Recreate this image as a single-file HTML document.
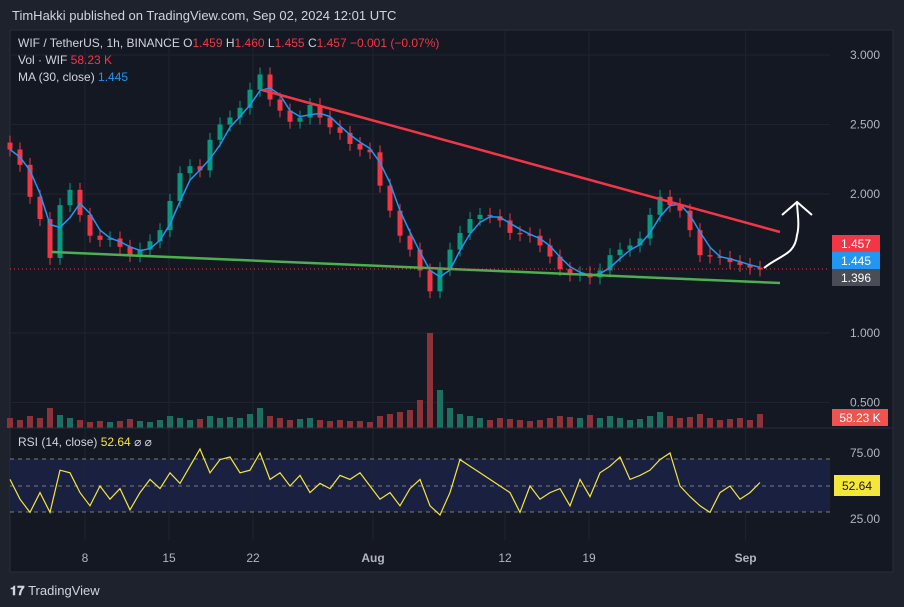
<!DOCTYPE html>
<html><head><meta charset="utf-8"><style>
body{margin:0;width:904px;height:607px;background:#1e222d;font-family:"Liberation Sans",sans-serif;overflow:hidden}
svg{position:absolute;left:0;top:0}
text{font-family:"Liberation Sans",sans-serif}
</style></head><body>
<svg width="904" height="607">
<rect x="10" y="30" width="883" height="542" fill="#141823" stroke="#2a2e39"/>
<rect x="10" y="459" width="820" height="53" fill="#1a2140"/>
<g id="grid"></g>
<g id="vol"></g>
<g id="candles"></g>
<g id="ma"></g>
<line x1="262" y1="90" x2="780" y2="232" stroke="#f23645" stroke-width="2.5"/>
<line x1="52" y1="252" x2="780" y2="283" stroke="#4caf50" stroke-width="2.5"/>
<path d="M764,268 C780,255 795,255 797,235 C800,225 797,210 797,202 M782,215 L797,202 L812,215" fill="none" stroke="#fff" stroke-width="2"/>
<line x1="10" x2="830" y1="269" y2="269" stroke="#f23645" stroke-dasharray="1,3"/>
<line x1="10" x2="893" y1="428" y2="428" stroke="#2a2e39"/>
<line x1="10" x2="830" y1="459" y2="459" stroke="#787b86" stroke-dasharray="4,4"/>
<line x1="10" x2="830" y1="486" y2="486" stroke="#787b86" stroke-dasharray="4,4"/>
<line x1="10" x2="830" y1="512" y2="512" stroke="#787b86" stroke-dasharray="4,4"/>
<g id="rsi"></g>
<g id="axes"></g>
<text x="12" y="20" font-size="13" fill="#d1d4dc">TimHakki published on TradingView.com, Sep 02, 2024 12:01 UTC</text>
<text x="18" y="47" font-size="12" fill="#d1d4dc">WIF / TetherUS, 1h, BINANCE  O<tspan fill="#f23645">1.459</tspan>  H<tspan fill="#f23645">1.460</tspan>  L<tspan fill="#f23645">1.455</tspan>  C<tspan fill="#f23645">1.457</tspan>  <tspan fill="#f23645">−0.001 (−0.07%)</tspan></text>
<text x="18" y="64" font-size="12" fill="#d1d4dc">Vol · WIF  <tspan fill="#f23645">58.23 K</tspan></text>
<text x="18" y="81" font-size="12" fill="#d1d4dc">MA (30, close)  <tspan fill="#2196f3">1.445</tspan></text>
<text x="18" y="446" font-size="12" fill="#d1d4dc">RSI (14, close)  <tspan fill="#f5e63b">52.64</tspan>  ⌀ ⌀</text>
<rect x="832" y="235" width="48" height="17" fill="#f23645"/>
<text x="856" y="248" font-size="12" fill="#fff" text-anchor="middle">1.457</text>
<rect x="832" y="252" width="48" height="17" fill="#2196f3"/>
<text x="856" y="265" font-size="12" fill="#fff" text-anchor="middle">1.445</text>
<rect x="832" y="269" width="48" height="17" fill="#4a4d55"/>
<text x="856" y="282" font-size="12" fill="#fff" text-anchor="middle">1.396</text>
<rect x="832" y="409" width="56" height="17" fill="#ef5350"/>
<text x="860" y="422" font-size="12" fill="#fff" text-anchor="middle">58.23 K</text>
<rect x="834" y="475" width="46" height="21" fill="#f5e63b"/>
<text x="857" y="490" font-size="12" fill="#131722" text-anchor="middle">52.64</text>
<text x="10" y="595" font-size="13" font-weight="bold" fill="#d1d4dc">𝟏𝟕 <tspan font-weight="normal" font-size="13">TradingView</tspan></text>
</svg>
<script>
const closes=[2.32,2.21,1.98,1.82,1.54,1.92,2.03,1.85,1.70,1.67,1.68,1.62,1.56,1.60,1.66,1.74,1.95,2.15,2.20,2.17,2.39,2.50,2.55,2.62,2.75,2.86,2.68,2.60,2.52,2.55,2.64,2.55,2.48,2.44,2.36,2.32,2.30,2.06,1.88,1.70,1.60,1.45,1.30,1.46,1.60,1.72,1.82,1.85,1.84,1.81,1.72,1.71,1.70,1.63,1.55,1.46,1.42,1.43,1.40,1.45,1.56,1.60,1.63,1.68,1.85,1.98,1.92,1.88,1.74,1.56,1.55,1.54,1.51,1.49,1.47,1.457];
const volumes=[10,8,12,10,20,13,10,8,6,7,6,7,9,7,6,8,12,10,8,9,12,10,11,10,14,20,12,10,8,9,10,8,7,8,7,7,6,12,14,16,18,28,95,38,20,14,12,10,8,10,9,8,7,8,10,12,11,10,13,10,12,10,8,9,12,16,12,10,11,14,10,8,9,10,8,14];
const rsi=[55,40,30,45,30,62,60,45,35,50,40,48,32,45,55,48,60,52,65,78,60,70,72,60,62,75,55,60,50,58,45,52,48,58,55,60,50,40,45,35,48,55,35,28,45,70,65,60,55,50,45,30,50,40,45,48,35,55,42,60,65,72,55,58,62,70,75,50,42,35,30,45,50,40,45,52.64];
const priceTicks=[3.0,2.5,2.0,1.0,0.5];
const priceTickLabels=["3.000","2.500","2.000","1.000","0.500"];
const rsiTicks=[75,25];
const rsiTickLabels=["75.00","25.00"];
const timeTicks=[6.25,13.25,20.25,30.25,41.25,48.25,61.3];
const timeLabels=["8","15","22","Aug","12","19","Sep"];
const NS="http://www.w3.org/2000/svg";
const py=p=>333-(p-1)*139, xi=i=>10+i*10, ry=r=>486-(r-50)*1.32, xd=d=>10+d*12, vy=v=>428-v;
function el(t,a,parent){const e=document.createElementNS(NS,t);for(const k in a)e.setAttribute(k,a[k]);document.getElementById(parent).appendChild(e);return e;}
priceTicks.forEach((p,i)=>{
 const g=el('line',{x1:10,x2:830,y1:py(p),y2:py(p),stroke:'#1f2330'},'grid');
 
 
 const t=el('text',{x:880,y:py(p)+4,'font-size':12,fill:'#b2b5be','text-anchor':'end'},'axes');t.textContent=priceTickLabels[i];
 
 
});
rsiTicks.forEach((r,i)=>{
 const t=el('text',{x:880,y:ry(r)+4,'font-size':12,fill:'#b2b5be','text-anchor':'end'},'axes');t.textContent=rsiTickLabels[i];
 
 
});
timeTicks.forEach((d,i)=>{
 const g=el('line',{x1:xd(d),x2:xd(d),y1:30,y2:540,stroke:'#1f2330'},'grid');
 
 
 const t=el('text',{x:xd(d),y:562,'font-size':12,fill:'#b2b5be','text-anchor':'middle','font-weight':timeLabels[i].length>2?'bold':'normal'},'axes');t.textContent=timeLabels[i];
 
 
});
volumes.forEach((v,i)=>{
 const up=i>0&&closes[i]>=closes[i-1];
 const r=el('rect',{x:xi(i)-3,y:vy(v),width:6,height:v,fill:up?'#1e6e62':'#8c3238'},'vol');
 
 
});
closes.forEach((c,i)=>{
 const o=i>0?closes[i-1]:c+0.05, up=c>=o, col=up?'#089981':'#f23645';
 const hi=Math.max(o,c)+0.05, lo=Math.min(o,c)-0.05;
 const w=el('line',{x1:xi(i),x2:xi(i),y1:py(hi),y2:py(lo),stroke:col},'candles');
 
 
 const b=el('rect',{x:xi(i)-2.5,y:py(Math.max(o,c)),width:5,height:Math.max(1,Math.abs(py(o)-py(c))),fill:col},'candles');
 
 
});
let pts=closes.map((c,i)=>{const s=closes.slice(Math.max(0,i-2),i+1);const m=s.reduce((a,b)=>a+b,0)/s.length;return xi(i)+','+py(m).toFixed(1);});
const ma=el('polyline',{points:pts.join(' '),fill:'none',stroke:'#2196f3','stroke-width':1.5},'ma');


const rl=el('polyline',{points:rsi.map((r,i)=>xi(i)+','+ry(r).toFixed(1)).join(' '),fill:'none',stroke:'#f5e63b','stroke-width':1.2},'rsi');


</script>
</body></html>
